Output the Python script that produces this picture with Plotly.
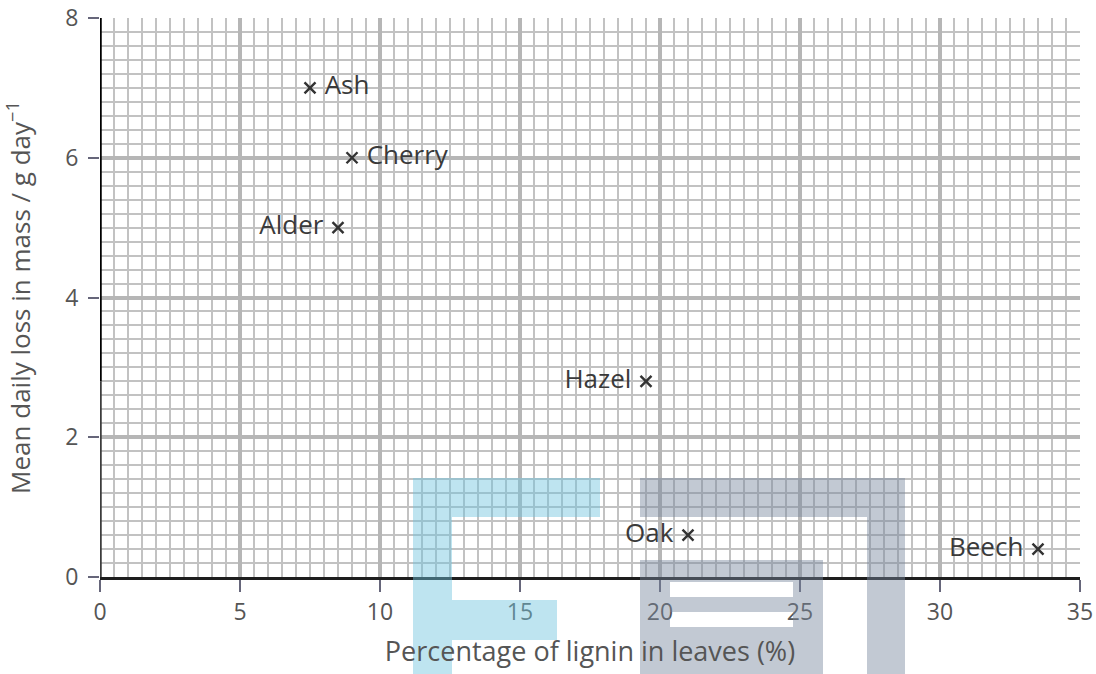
import plotly.graph_objects as go

# ---- data ----
species = ["Ash", "Cherry", "Alder", "Hazel", "Oak", "Beech"]
lignin_pct = [7.5, 9.0, 8.5, 19.5, 21.0, 33.5]
mass_loss = [7.0, 6.0, 5.0, 2.8, 0.6, 0.4]
label_side = ["middle right", "middle right", "middle left", "middle left", "middle left", "middle left"]

x_ticks = [0, 5, 10, 15, 20, 25, 30, 35]
y_ticks = [0, 2, 4, 6, 8]

W, H = 1096, 674
L, R, T, B = 100, 16, 18, 97

FONT = "Open Sans"

labels = [(" " + s) if side.endswith("right") else (s + " ") for s, side in zip(species, label_side)]

fig = go.Figure()
fig.add_trace(go.Scatter(
    x=lignin_pct, y=mass_loss, mode="markers+text",
    text=labels, textposition=label_side,
    textfont=dict(family=FONT, size=26, color="#3a3a3a"),
    marker=dict(symbol="x-thin", size=11, line=dict(width=2.4, color="#333333"), color="#333333"),
    cliponaxis=False, showlegend=False,
))

grid_minor = dict(showgrid=True, gridcolor="#c2c2c2", gridwidth=2)

fig.update_layout(
    width=W, height=H,
    margin=dict(l=L, r=R, t=T, b=B),
    paper_bgcolor="white", plot_bgcolor="white",
    font=dict(family=FONT, color="#555555"),
    xaxis=dict(
        range=[0, 35], tickvals=x_ticks, ticktext=[str(v) for v in x_ticks],
        automargin=False, ticklabeloverflow="allow",
        showgrid=True, gridcolor="#b6b6b6", gridwidth=3.5,
        minor=dict(dtick=0.5, **grid_minor),
        showline=True, linecolor="#1e1e1e", linewidth=3,
        ticks="outside", ticklen=12, tickwidth=1.5, tickcolor="#66667a",
        tickfont=dict(family=FONT, size=23, color="#555555"),
        zeroline=False,
        title=dict(text="Percentage of lignin in leaves (%)", standoff=17,
                   font=dict(family=FONT, size=27, color="#555555")),
    ),
    yaxis=dict(
        range=[0, 8], tickvals=y_ticks, ticktext=[str(v) for v in y_ticks],
        automargin=False, ticklabeloverflow="allow",
        showgrid=True, gridcolor="#b6b6b6", gridwidth=3.5,
        minor=dict(dtick=0.2, **grid_minor),
        showline=False,
        ticks="outside", ticklen=11, tickwidth=1.5, tickcolor="#66667a",
        ticklabelstandoff=5,
        tickfont=dict(family=FONT, size=23, color="#555555"),
        zeroline=False,
        title=dict(text="Mean daily loss in mass / g day<sup>−1</sup>", standoff=31,
                   font=dict(family=FONT, size=26, color="#555555")),
    ),
)

# y axis line (black upper part, dark grey lower part as in the scan)
fig.add_shape(type="line", xref="x", yref="y", x0=0, x1=0, y0=2.8, y1=8,
              line=dict(color="#000000", width=3.5), layer="above")
fig.add_shape(type="line", xref="x", yref="y", x0=0, x1=0, y0=0, y1=2.8,
              line=dict(color="#3c3c3c", width=3.5), layer="above")


# ---- watermark (decoration), given in page pixel positions ----
def px_rect(x0, y0, x1, y1, color, opacity):
    pw, ph = W - L - R, H - T - B
    fig.add_shape(type="rect", xref="paper", yref="paper",
                  x0=(x0 - L) / pw, x1=(x1 - L) / pw,
                  y0=(H - B - y1) / ph, y1=(H - B - y0) / ph,
                  fillcolor=color, opacity=opacity, line=dict(width=0), layer="above")

blue = "rgb(110,195,222)"
grey = "rgb(120,135,158)"
px_rect(413, 478, 600, 517, blue, 0.45)
px_rect(413, 517, 452, 674, blue, 0.45)
px_rect(452, 600, 557, 640, blue, 0.45)
px_rect(640, 478, 905, 517, grey, 0.45)
px_rect(867, 517, 905, 674, grey, 0.45)
px_rect(640, 560, 823, 582, grey, 0.45)
px_rect(640, 582, 670, 674, grey, 0.45)
px_rect(793, 582, 823, 674, grey, 0.45)
px_rect(670, 597, 793, 612, grey, 0.45)
px_rect(670, 627, 793, 674, grey, 0.45)

fig.write_html(
    "out.html",
    config={"displayModeBar": False},
    post_script="document.body.style.margin='0';document.body.style.overflow='hidden';",
)
